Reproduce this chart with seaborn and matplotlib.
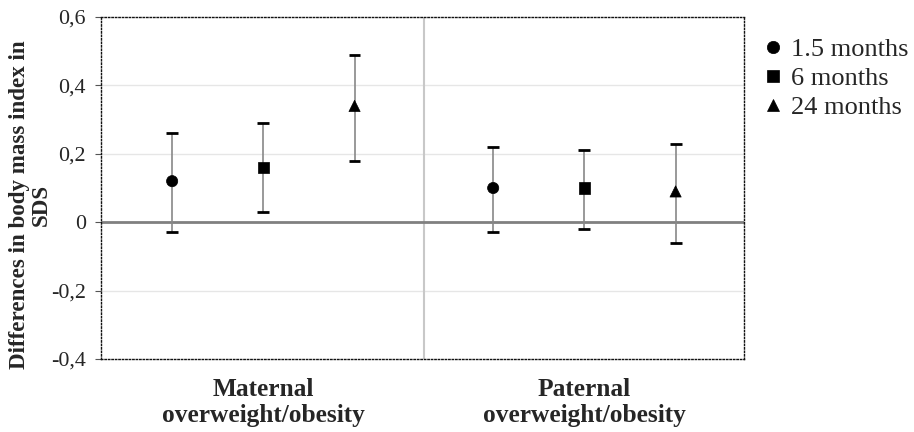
import matplotlib
matplotlib.use("Agg")
import matplotlib.pyplot as plt
import seaborn as sns
import numpy as np
import pandas as pd

groups = ["Maternal\noverweight/obesity", "Paternal\noverweight/obesity"]
times = ["1.5 months", "6 months", "24 months"]
estimate = [[0.12, 0.16, 0.34], [0.10, 0.10, 0.09]]
lower = [[-0.03, 0.03, 0.18], [-0.03, -0.02, -0.06]]
upper = [[0.26, 0.29, 0.49], [0.22, 0.21, 0.23]]
yticks = [-0.4, -0.2, 0, 0.2, 0.4, 0.6]
ytick_labels = ["-0,4", "-0,2", "0", "0,2", "0,4", "0,6"]

sns.set_style("white")
plt.rcParams["font.family"] = ["Liberation Serif", "DejaVu Serif"]

group_step = 3.52
rows = []
for gi, g in enumerate(groups):
    for ti, t in enumerate(times):
        rows.append(dict(group=g, time=t, pos=gi * group_step + ti,
                         est=estimate[gi][ti], lo=lower[gi][ti], hi=upper[gi][ti]))
df = pd.DataFrame(rows)

fig = plt.figure(figsize=(9.14, 4.32), dpi=100)
ax = fig.add_axes([0.1105, 0.169, 0.7035, 0.7916])

# grid and reference lines
for y in [-0.2, 0.2, 0.4]:
    ax.axhline(y, color="#e6e6e6", lw=1, zorder=0)
ax.axhline(0, color="#808080", lw=2, zorder=1)
sep = (df.pos.iloc[2] + df.pos.iloc[3]) / 2
ax.axvline(sep, color="#c8c8c8", lw=1.5, zorder=0)

ax.errorbar(df.pos, df.est, yerr=[df.est - df.lo, df.hi - df.est], fmt="none",
            ecolor="#888888", elinewidth=1.2, capsize=0, zorder=2)
# caps
ax.hlines(df.lo, df.pos - 0.065, df.pos + 0.065, color="black", lw=2, zorder=3)
ax.hlines(df.hi, df.pos - 0.065, df.pos + 0.065, color="black", lw=2, zorder=3)

markers = {"1.5 months": "o", "6 months": "s", "24 months": "^"}
sns.scatterplot(data=df, x="pos", y="est", style="time", markers=markers,
                color="black", s=65, edgecolor="black", linewidth=0.5, ax=ax, zorder=4)

ax.set_xlim(-0.78, df.pos.max() + 0.75)
ax.set_ylim(-0.4, 0.6)
ax.set_yticks(yticks)
ax.set_yticklabels(ytick_labels, fontsize=15.8)
ax.tick_params(axis="y", which="both", left=True, length=4, width=0.8, color="#555555", pad=7)
centers = [df.pos.iloc[0:3].mean(), df.pos.iloc[3:6].mean()]
ax.set_xticks(centers)
ax.set_xticklabels(groups, fontsize=18.3, fontweight="bold", linespacing=1.15)
ax.tick_params(axis="x", length=0, pad=14)
ax.set_xlabel("")
ax.set_ylabel("Differences in body mass index in\nSDS", fontsize=16.6, fontweight="bold",
              linespacing=1.0)
ax.yaxis.set_label_coords(-0.077, 0.45)

for sp in ax.spines.values():
    sp.set_visible(True)
    sp.set_linestyle((0, (1, 1.5)))
    sp.set_color("#111111")
    sp.set_linewidth(1.0)

leg = ax.legend(loc="upper left", bbox_to_anchor=(1.01, 0.97), frameon=False,
                fontsize=19, handletextpad=0.25, borderaxespad=0, labelspacing=0.2,
                handlelength=0.9, markerscale=1.1)

fig.savefig("out.png", dpi=100)
